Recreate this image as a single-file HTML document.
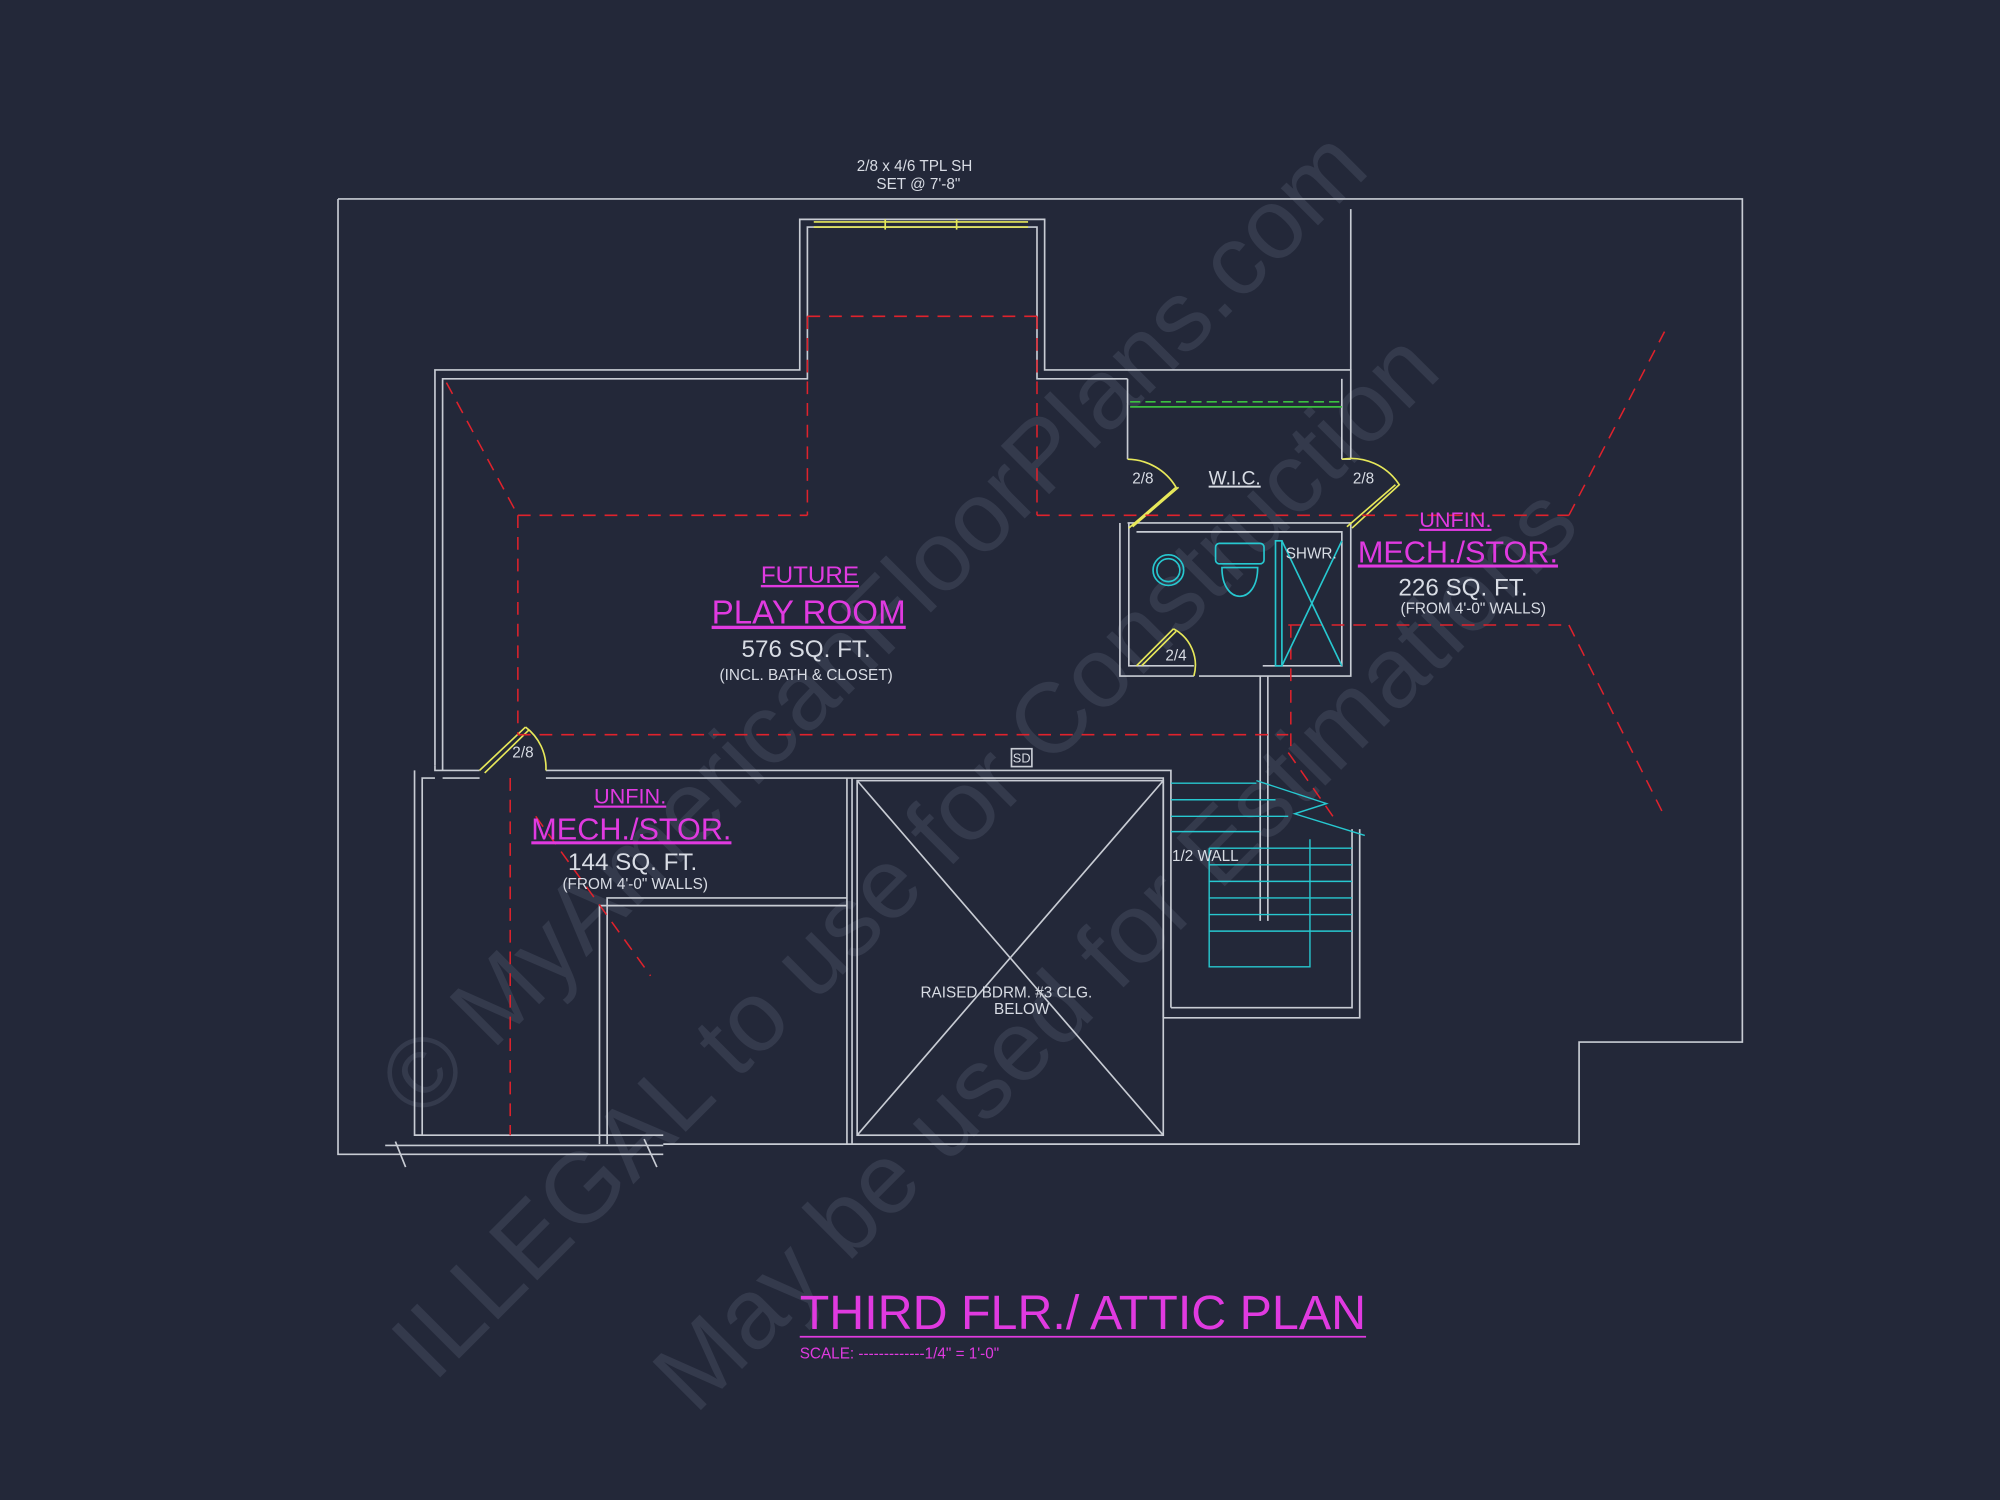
<!DOCTYPE html>
<html><head><style>
html,body{margin:0;padding:0;background:#232839;}
svg{display:block}
text{font-family:"Liberation Sans",sans-serif}
</style></head><body>
<svg width="2000" height="1500" viewBox="0 0 1568 1176" xmlns="http://www.w3.org/2000/svg">
<rect width="1568" height="1176" fill="#232839"/>
<g fill="#343a4c" font-family="Liberation Serif,serif">
<text x="0" y="0" font-size="78" transform="translate(330,880) rotate(-45)">© MyAmericanFloorPlans.com</text>
<text x="0" y="0" font-size="78" transform="translate(340,1085) rotate(-45)">ILLEGAL to use for Construction</text>
<text x="0" y="0" font-size="78" transform="translate(545,1110) rotate(-45)">May be used for Estimations</text>
</g>
<g fill="none" stroke="#c8ccd4" stroke-width="1.3">
<polyline points="265,156 1366,156 1366,817 1238,817 1238,897 520,897"/>
<polyline points="265,156 265,905 520,905"/>
<line x1="1059" y1="164" x2="1059" y2="290"/>
<polyline points="341,600 341,290 627,290 627,172 819,172 819,290 884,290"/>
<polyline points="347,604 347,297 633,297 633,178 813,178 813,297 884,297"/>
<polyline points="884,290 1059,290 1059,360"/>
<polyline points="884,297 884,360"/>
<polyline points="1052,297 1052,360"/>
<polyline points="878,410 878,530 936,530"/>
<polyline points="885,410 885,522 936,522"/>
<polyline points="884,410 1059,410 1059,530 940,530"/>
<polyline points="891,417 1052,417 1052,522 990,522"/>
<line x1="1052" y1="360" x2="1059" y2="360"/>
<line x1="988" y1="530" x2="988" y2="722"/>
<line x1="994" y1="530" x2="994" y2="722"/>
<polyline points="341,600 341,604 376,604"/>
<polyline points="428,604 918,604 918,790"/>
<polyline points="347,610 376,610"/>
<polyline points="428,610 912,610 912,798"/>
<polyline points="325,604 325,890 331,890 331,610 341,610"/>
<line x1="325" y1="890" x2="520" y2="890"/>
<polyline points="664,610 664,897"/>
<polyline points="668,610 668,897"/>
<polyline points="470,897 470,710 664,710"/>
<polyline points="476,897 476,704 664,704"/>
<rect x="672" y="612" width="240" height="278"/>
<line x1="672" y1="612" x2="912" y2="890"/>
<line x1="912" y1="612" x2="672" y2="890"/>
<polyline points="918,790 1060,790 1060,650"/>
<polyline points="912,798 1066,798 1066,650"/>
<line x1="302" y1="898" x2="520" y2="898"/>
<line x1="310" y1="895" x2="318" y2="915"/>
<line x1="505" y1="893" x2="515" y2="915"/>
<rect x="793" y="587" width="16" height="14"/>
</g>
<g stroke="#e7e85a" stroke-width="1.3" fill="none">
<line x1="638" y1="174" x2="806" y2="174"/><line x1="638" y1="178" x2="806" y2="178"/>
<line x1="694" y1="172" x2="694" y2="180"/><line x1="750" y1="172" x2="750" y2="180"/>
<path d="M376,604 L412,570 M380,606 L415,572"/><path d="M412,570 A40,40 0 0 1 428,604"/>
<path d="M884,360 A45,45 0 0 1 922,382 L885,414 M888,413 L924,382"/>
<path d="M1052,360 A45,45 0 0 1 1097,380 L1060,414 M1056,413 L1094,380"/>
<path d="M891,522 L920,493 M895,522 L922,495"/><path d="M920,493 A32,32 0 0 1 936,530"/>
</g>
<g stroke="#3cc040" stroke-width="1.3">
<line x1="886" y1="315" x2="1052" y2="315" stroke-dasharray="8,4"/>
<line x1="886" y1="319" x2="1052" y2="319"/>
</g>
<g stroke="#e0222c" stroke-width="1.2" fill="none" stroke-dasharray="10,7">
<line x1="633" y1="248" x2="813" y2="248"/>
<line x1="633" y1="248" x2="633" y2="404"/>
<line x1="813" y1="248" x2="813" y2="404"/>
<line x1="406" y1="404" x2="633" y2="404"/>
<line x1="813" y1="404" x2="1230" y2="404"/>
<line x1="406" y1="404" x2="406" y2="576"/>
<line x1="350" y1="300" x2="406" y2="404"/>
<line x1="406" y1="576" x2="1010" y2="576"/>
<line x1="400" y1="610" x2="400" y2="890"/>
<line x1="420" y1="640" x2="510" y2="765"/>
<line x1="1010" y1="490" x2="1230" y2="490"/>
<line x1="1012" y1="490" x2="1012" y2="590"/>
<line x1="1230" y1="404" x2="1305" y2="260"/>
<line x1="1230" y1="490" x2="1305" y2="640"/>
<line x1="1010" y1="590" x2="1045" y2="640"/>
</g>
<g stroke="#27c8d0" stroke-width="1.3" fill="none">
<circle cx="916" cy="447" r="12"/><circle cx="916" cy="447" r="9"/>
<rect x="953" y="426" width="38" height="16" rx="3"/>
<path d="M958,445 C958,475 986,475 986,445 Z"/>
<rect x="1000" y="424" width="5" height="98"/>
<line x1="1005" y1="424" x2="1052" y2="522"/><line x1="1052" y1="424" x2="1005" y2="522"/>
<g stroke-width="1.1">
<line x1="918" y1="614" x2="985" y2="614"/><line x1="918" y1="627" x2="1000" y2="627"/>
<line x1="918" y1="640" x2="1010" y2="640"/><line x1="918" y1="652" x2="988" y2="652"/>
<line x1="948" y1="665" x2="1060" y2="665"/><line x1="948" y1="678" x2="1060" y2="678"/>
<line x1="948" y1="691" x2="1060" y2="691"/><line x1="948" y1="704" x2="1060" y2="704"/>
<line x1="948" y1="717" x2="1060" y2="717"/><line x1="948" y1="730" x2="1060" y2="730"/>
<polyline points="948,665 948,758 1027,758 1027,658"/>
<polyline points="985,612 1040,630 1015,638 1070,655"/>
</g>
</g>
<g fill="#d8dce4" font-size="12" text-anchor="middle">
<text x="717" y="134">2/8 x 4/6 TPL SH</text>
<text x="720" y="148">SET @ 7'-8"</text>
<text x="896" y="379">2/8</text><text x="1069" y="379">2/8</text>
<text x="968" y="380" font-size="15" text-decoration="underline">W.I.C.</text>
<text x="1028" y="438">SHWR.</text>
<text x="922" y="518">2/4</text>
<text x="410" y="594">2/8</text>
<text x="801" y="598" font-size="10">SD</text>
<text x="632" y="515" font-size="19">576 SQ. FT.</text>
<text x="632" y="533" font-size="12">(INCL. BATH &amp; CLOSET)</text>
<text x="496" y="682" font-size="19">144 SQ. FT.</text>
<text x="498" y="697" font-size="12">(FROM 4'-0" WALLS)</text>
<text x="1147" y="467" font-size="19">226 SQ. FT.</text>
<text x="1155" y="481" font-size="12">(FROM 4'-0" WALLS)</text>
<text x="945" y="675" font-size="12">1/2 WALL</text>
<text x="789" y="782" font-size="12">RAISED BDRM. #3 CLG.</text>
<text x="801" y="795" font-size="12">BELOW</text>
</g>
<g fill="#e03ae0" text-anchor="middle" text-decoration="underline">
<text x="635" y="457" font-size="19">FUTURE</text>
<text x="634" y="489" font-size="26">PLAY ROOM</text>
<text x="494" y="630" font-size="17">UNFIN.</text>
<text x="495" y="658" font-size="24">MECH./STOR.</text>
<text x="1141" y="413" font-size="17">UNFIN.</text>
<text x="1143" y="441" font-size="24">MECH./STOR.</text>
</g>
<g fill="#e03ae0">
<text x="627" y="1042" font-size="38" textLength="444" lengthAdjust="spacingAndGlyphs">THIRD FLR./ ATTIC PLAN</text>
<line x1="627" y1="1048" x2="1071" y2="1048" stroke="#e03ae0" stroke-width="1.3"/>
<text x="627" y="1065" font-size="12">SCALE: -------------1/4" = 1'-0"</text>
</g>
</svg>
</body></html>
